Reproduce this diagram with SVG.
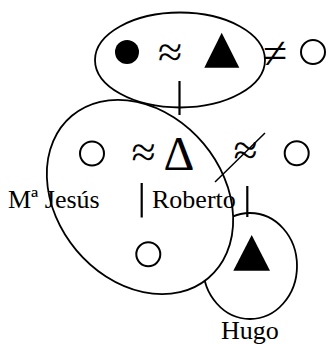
<svg xmlns="http://www.w3.org/2000/svg" width="328" height="344" viewBox="0 0 328 344">
<style>
.sh{fill:none;stroke:#000;stroke-width:1.8}
.shw{fill:#fff;stroke:#000;stroke-width:1.8}
.oc{fill:none;stroke:#000;stroke-width:2}
.fi{fill:#000;stroke:none}
.sym{font-family:"Liberation Serif","Times New Roman",serif;font-size:44px;fill:#000;text-anchor:middle}
.lbl{font-family:"Liberation Serif","Times New Roman",serif;font-size:26px;fill:#000}
.ln{stroke:#000;stroke-width:2.2;fill:none}
</style>
<rect width="328" height="344" fill="#fff"/>
<g id="hugo-group">
<ellipse class="shw" cx="250" cy="266" rx="47" ry="53"/>
<polygon class="fi" points="251.7,235 233.3,270.7 270,270.7"/>
</g>
<g id="big-group">
<ellipse class="shw" cx="140" cy="197" rx="106" ry="83" transform="rotate(50 140 197)"/>
<circle class="oc" cx="92" cy="153.5" r="12"/>
<text class="sym" x="143.5" y="167">≈</text>
<text class="sym" x="179" y="170" style="font-size:48px">Δ</text>
<circle class="oc" cx="148.3" cy="254.3" r="12"/>
</g>
<g id="top-group">
<ellipse class="sh" cx="180" cy="60" rx="85" ry="47.5"/>
<circle class="fi" cx="127" cy="52" r="12"/>
<text class="sym" x="170" y="67">≈</text>
<polygon class="fi" points="221.7,32.7 204.3,67.7 239.3,67.7"/>
</g>
<g id="neq">
<text class="sym" x="275" y="68">≠</text>
<circle class="oc" cx="313" cy="52" r="12"/>
</g>
<g id="napprox">
<text class="sym" x="245.5" y="165">≈</text>
<line x1="215" y1="182" x2="265" y2="133" stroke="#000" stroke-width="1.5"/>
<circle class="oc" cx="296.7" cy="153.3" r="12"/>
</g>
<g id="labels">
<text class="lbl" x="8" y="208">Mª Jesús</text>
<text class="lbl" x="152" y="208">Roberto</text>
<text class="lbl" x="221" y="339">Hugo</text>
</g>
<g id="connectors">
<line class="ln" x1="179.5" y1="81" x2="179.5" y2="115"/>
<line class="ln" x1="141.7" y1="183" x2="141.7" y2="217.5"/>
<line class="ln" x1="247.3" y1="186" x2="247.3" y2="217"/>
</g>
</svg>
